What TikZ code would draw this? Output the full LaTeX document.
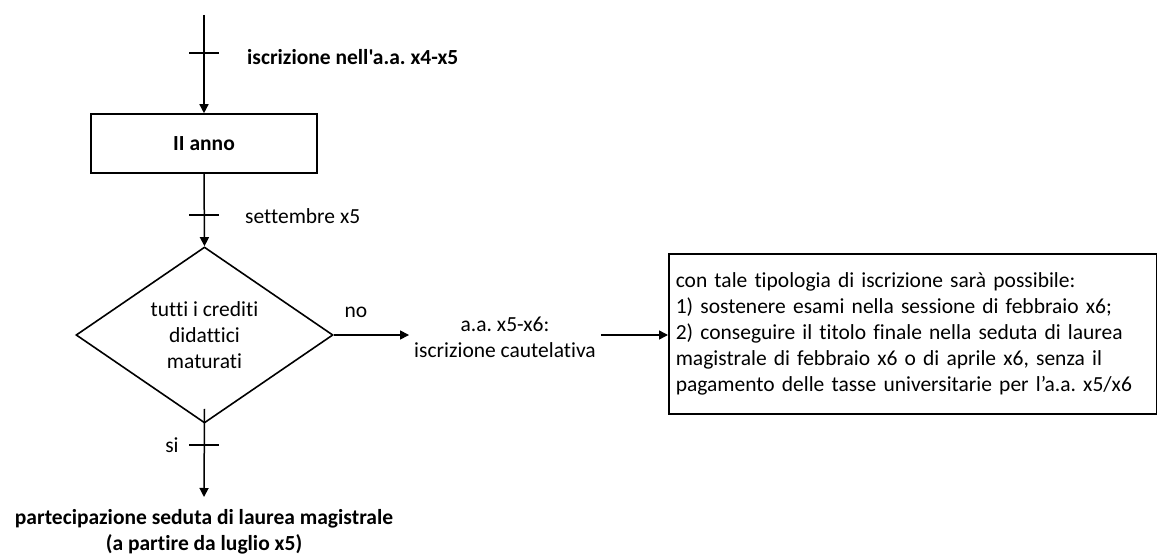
\documentclass[tikz,border=0pt]{standalone}
\usepackage{fontspec}
\setmainfont{Carlito}[Ligatures={TeXOff,NoCommon}]
\usetikzlibrary{shapes.geometric,arrows.meta,calc}
\begin{document}
\begin{tikzpicture}[x=1pt,y=-1pt,
  every node/.style={font=\fontsize{21.5}{26}\selectfont},
  boldtxt/.style={font=\fontsize{21.5}{26}\selectfont\bfseries},
  conn/.style={line width=1.5pt,-{Triangle[length=9pt,width=9pt]}},
  plain/.style={line width=1.5pt},
  boxed/.style={draw,line width=1.6pt,rectangle,inner sep=0pt},
  decision/.style={draw,line width=1.6pt,diamond,aspect=1.46,minimum width=257pt,minimum height=176pt,inner sep=0pt,align=center},
  lbl/.style={inner sep=0pt}]
\useasboundingbox (0,0) rectangle (1157,556);

% nodes
\coordinate (start) at (204,15);
\node[boxed,boldtxt,minimum width=226pt,minimum height=59pt] (anno) at (204,143.5) {II anno};
\node[decision] (dec) at (204.5,335) {tutti i crediti\\didattici\\maturati};
\node[align=center,inner xsep=5pt,inner ysep=0pt] (cau) at (505,337.5) {a.a.\ x5-x6:\\iscrizione cautelativa};
\node[boxed,anchor=north west,inner xsep=7pt,text width=474pt,minimum height=160pt,align=left] (info) at (668,253) {con tale tipologia di iscrizione sarà possibile:\\
1) sostenere esami nella sessione di febbraio x6;\\
\makebox[\linewidth][s]{2) conseguire il titolo finale nella seduta di laurea}\\
\makebox[\linewidth][s]{magistrale di febbraio x6 o di aprile x6, senza il}\\
pagamento delle tasse universitarie per l’a.a.\ x5/x6};
\node[boldtxt,anchor=north,align=center,inner xsep=0pt,inner ysep=12pt] (fine) at (204,497) {partecipazione seduta di laurea magistrale\\(a partire da luglio x5)};

% labels
\node[lbl,boldtxt,anchor=west] (l1) at (247,57) {iscrizione nell'a.a.\ x4-x5};
\node[lbl,anchor=west] (l2) at (245,216) {settembre x5};
\node[lbl] (no) at (356,312) {no};
\node[lbl] (si) at (172,445) {si};

% connectors
\draw[conn] (start) -- (anno.north);
\draw[conn] (anno.south) -- (dec.north);
\draw[conn] (dec.east) -- (dec.east -| cau.west);
\draw[conn] (cau.east |- dec.east) -- (info.west |- dec.east);
\draw[conn] ($(dec.south)+(0,-15)$) -- (fine.north);

% ticks
\coordinate (t1) at (204,53);
\coordinate (t2) at (204,215);
\coordinate (t3) at (204,445);
\foreach \t in {t1,t2,t3}
  \draw[plain] ($(\t)+(-15,0)$) -- ($(\t)+(15,0)$);
\end{tikzpicture}
\end{document}
